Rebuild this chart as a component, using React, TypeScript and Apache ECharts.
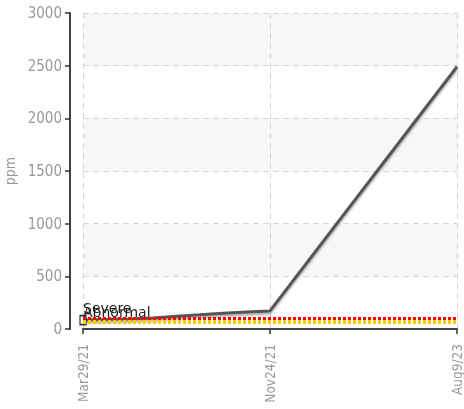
import React, { useEffect, useRef } from "react";
import * as echarts from "echarts";

const categories = [
  "Mar29/21", "Apr28/21", "May28/21", "Jun27/21", "Jul27/21", "Aug26/21", "Sep25/21", "Oct25/21",
  "Nov24/21", "Feb10/22", "Apr29/22", "Jul16/22", "Oct2/22", "Dec19/22", "Mar7/23", "May23/23",
  "Aug9/23",
];
const ppmValues: (number | null)[] = [
  85, 90, 95, 105, 122, 135, 150, 162, 172, null, null, null, null, null, null, null, 2490,
];
const thresholds = [
  { name: "Severe", value: 100, color: "#ff0000" },
  { name: "Abnormal", value: 70, color: "#ffcc00" },
];
const yTicks = { min: 0, max: 3000, interval: 500 };

export default function App() {
  const ref = useRef<HTMLDivElement>(null);
  useEffect(() => {
    if (!ref.current) return;
    const chart = echarts.init(ref.current, null, { renderer: "svg" });
    const tickFont = "DejaVu Sans Condensed";
    chart.setOption({
      animation: false,
      grid: { left: 83, right: 7, top: 13, bottom: 80, containLabel: false, outerBoundsMode: "none" },
      xAxis: {
        type: "category",
        data: categories,
        boundaryGap: false,
        axisLine: { show: true, lineStyle: { color: "#444", width: 2 } },
        axisTick: { show: true, interval: 7, length: 5, lineStyle: { color: "#333", width: 1.5 } },
        axisLabel: {
          interval: 7,
          rotate: 90,
          margin: 15,
          color: "#999",
          fontFamily: tickFont,
          fontSize: 13.5,
        },
        splitLine: {
          show: true,
          interval: 7,
          lineStyle: { color: "#d6d6d6", type: [6, 4], width: 1 },
        },
      },
      yAxis: {
        type: "value",
        min: yTicks.min,
        max: yTicks.max,
        interval: yTicks.interval,
        offset: 13,
        name: "ppm",
        nameLocation: "middle",
        nameGap: 52,
        nameTextStyle: { color: "#999", fontFamily: tickFont, fontSize: 14 },
        axisLine: { show: true, lineStyle: { color: "#444", width: 2 } },
        axisTick: { show: true, length: 5, lineStyle: { color: "#333", width: 1.5 } },
        axisLabel: {
          margin: 8,
          color: "#999",
          fontFamily: tickFont,
          fontSize: 15,
          formatter: (v: number) => String(v),
        },
        splitLine: { show: true, lineStyle: { color: "#d6d6d6", type: [6, 4], width: 1 } },
        splitArea: { show: true, areaStyle: { color: ["#ffffff", "#f7f7f7"] } },
      },
      series: [
        {
          type: "line",
          data: ppmValues.map((v, i) =>
            i === 0
              ? {
                  value: v,
                  symbol: "rect",
                  symbolSize: [6, 9],
                  itemStyle: { color: "#fff", borderColor: "#333", borderWidth: 1.5 },
                }
              : { value: v, symbol: "none" }
          ),
          connectNulls: true,
          showSymbol: true,
          lineStyle: {
            color: "#555",
            width: 3,
            shadowColor: "rgba(0,0,0,0.35)",
            shadowBlur: 2,
            shadowOffsetY: 2,
          },
          itemStyle: { color: "#555" },
          markLine: {
            silent: true,
            symbol: "none",
            data: thresholds.map((t) => ({
              name: t.name,
              yAxis: t.value,
              lineStyle: { color: t.color, width: 4, type: [3, 2] },
            })),
            label: {
              show: true,
              position: "insideStartTop",
              formatter: "{b}",
              color: "#222",
              fontFamily: "DejaVu Sans",
              fontSize: 14,
              distance: [0, 3],
            },
          },
        },
      ],
    });
    return () => chart.dispose();
  }, []);
  return (
    <div
      ref={ref}
      style={{ position: "fixed", left: 0, top: 0, width: 464, height: 409 }}
    />
  );
}
